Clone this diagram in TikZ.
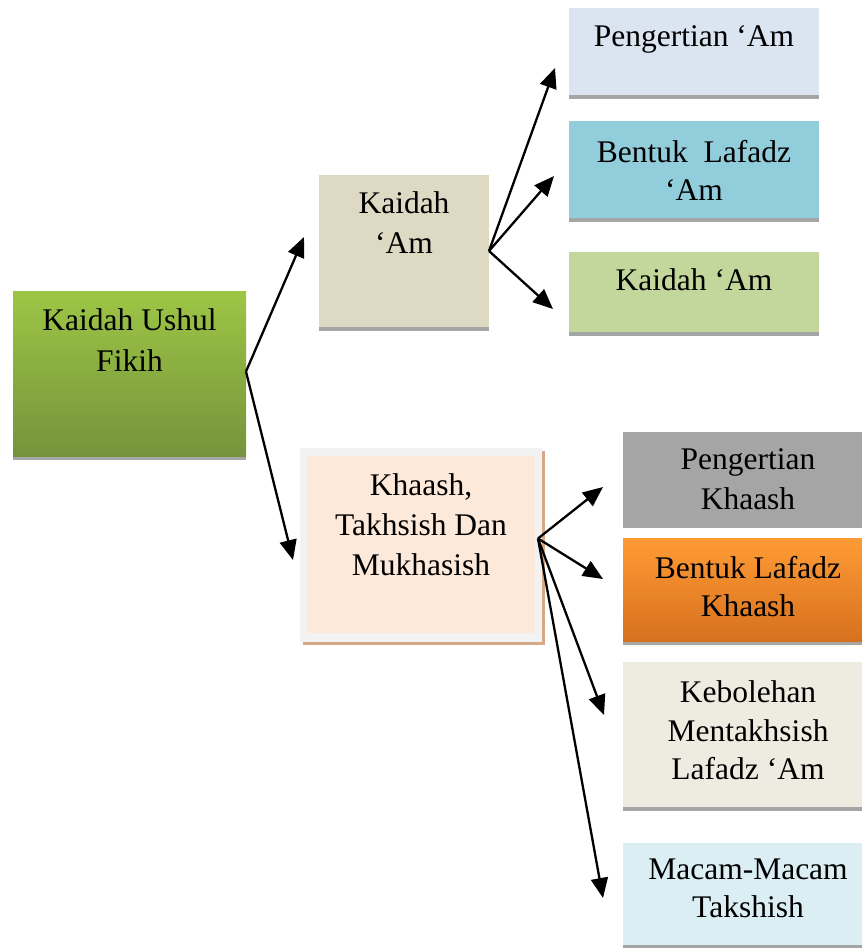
\documentclass[tikz,border=0pt]{standalone}
\usepackage{fontspec}
\setmainfont{Liberation Serif}
\usetikzlibrary{arrows.meta,shadows}
\definecolor{rootTop}{HTML}{9DC645}
\definecolor{rootBot}{HTML}{76933C}
\definecolor{kaFill}{HTML}{DDD9C3}
\definecolor{khRim}{HTML}{F2F2F2}
\definecolor{khFill}{HTML}{FDE9D9}
\definecolor{khShadow}{HTML}{D6AA88}
\definecolor{pA}{HTML}{DBE5F1}
\definecolor{pB}{HTML}{92CDDC}
\definecolor{pC}{HTML}{C3D69B}
\definecolor{qA}{HTML}{A5A5A5}
\definecolor{qBtop}{HTML}{FF9B35}
\definecolor{qBbot}{HTML}{D6711E}
\definecolor{qC}{HTML}{EEECE1}
\definecolor{qD}{HTML}{DAEEF3}
\definecolor{shadowgray}{HTML}{A5A5A5}
\tikzset{myhead/.tip={Triangle[length=20pt 0 0, width=17pt 0 0]}}
\begin{document}
\begin{tikzpicture}[x=1pt,y=-1pt,
  box/.style={inner sep=0pt, outer sep=0pt, draw=none},
  shad/.style={drop shadow={shadow xshift=0pt, shadow yshift=-4pt, fill=shadowgray, opacity=1}},
  txt/.style={inner sep=0pt, outer sep=0pt, anchor=north, align=center, font=\fontsize{31.5}{40}\selectfont},
  arr/.style={line width=2.3pt, -myhead}]
\clip (0,0) rectangle (862,948);
% boxes
\node[box, shad, minimum width=233pt, minimum height=165pt, top color=rootTop, bottom color=rootBot] (root) at (129.5,373.5) {};
\node[box, shad, fill=kaFill, minimum width=170pt, minimum height=152pt] (ka) at (404,251) {};
\node[box, fill=khRim, minimum width=242pt, minimum height=194pt,
  drop shadow={shadow xshift=3pt, shadow yshift=-3pt, fill=khShadow, opacity=1}] (kh) at (421,545) {};
\node[box, fill=khFill, minimum width=228pt, minimum height=177pt] (khin) at (421,544.5) {};
\node[box, shad, fill=pA, minimum width=250pt, minimum height=87pt] (p1) at (694,51.5) {};
\node[box, shad, fill=pB, minimum width=250pt, minimum height=97pt] (p2) at (694,169.5) {};
\node[box, shad, fill=pC, minimum width=250pt, minimum height=80pt] (p3) at (694,292) {};
\node[box, fill=qA, minimum width=250pt, minimum height=96pt] (q1) at (748,480) {};
\node[box, shad, top color=qBtop, bottom color=qBbot, minimum width=250pt, minimum height=103pt] (q2) at (748,589.5) {};
\node[box, shad, fill=qC, minimum width=250pt, minimum height=145pt] (q3) at (748,734.5) {};
\node[box, shad, fill=qD, minimum width=250pt, minimum height=102pt] (q4) at (748,894) {};
% texts
\node[txt, font=\fontsize{31.5}{41}\selectfont] (rootT) at (129.5,309) {Kaidah Ushul\\Fikih};
\node[txt] (kaT) at (404,192) {Kaidah\\‘Am};
\node[txt] (khT) at (421,474) {Khaash,\\Takhsish Dan\\Mukhasish};
\node[txt] (p1T) at (694,26) {Pengertian ‘Am};
\node[txt, font=\fontsize{31.5}{38}\selectfont] (p2T) at (694,140) {Bentuk\ \ Lafadz\\‘Am};
\node[txt] (p3T) at (694,269) {Kaidah ‘Am};
\node[txt] (q1T) at (748,449) {Pengertian\\Khaash};
\node[txt, font=\fontsize{31.5}{38}\selectfont] (q2T) at (748,556) {Bentuk Lafadz\\Khaash};
\node[txt, font=\fontsize{31.5}{38.5}\selectfont] (q3T) at (748,681) {Kebolehan\\Mentakhsish\\Lafadz ‘Am};
\node[txt, font=\fontsize{31.5}{38}\selectfont] (q4T) at (748,859) {Macam-Macam\\Takshish};
% arrow tips
\coordinate (tka) at (304,237);
\coordinate (tkh) at (293,560);
\coordinate (tp1) at (555,68);
\coordinate (tp2) at (554,176);
\coordinate (tp3) at (553,309);
\coordinate (tq1) at (603,487);
\coordinate (tq2) at (603,579);
\coordinate (tq3) at (604,715);
\coordinate (tq4) at (603,898);
% connectors
\draw[arr] ([yshift=2pt]root.east) -- (tka);
\draw[arr] ([yshift=2pt]root.east) -- (tkh);
\draw[arr] (ka.east) -- (tp1);
\draw[arr] (ka.east) -- (tp2);
\draw[arr] (ka.east) -- (tp3);
\draw[arr] ([xshift=3pt,yshift=6pt]khin.east) -- (tq1);
\draw[arr] ([xshift=3pt,yshift=6pt]khin.east) -- (tq2);
\draw[arr] ([xshift=3pt,yshift=6pt]khin.east) -- (tq3);
\draw[arr] ([xshift=3pt,yshift=6pt]khin.east) -- (tq4);
\end{tikzpicture}
\end{document}
